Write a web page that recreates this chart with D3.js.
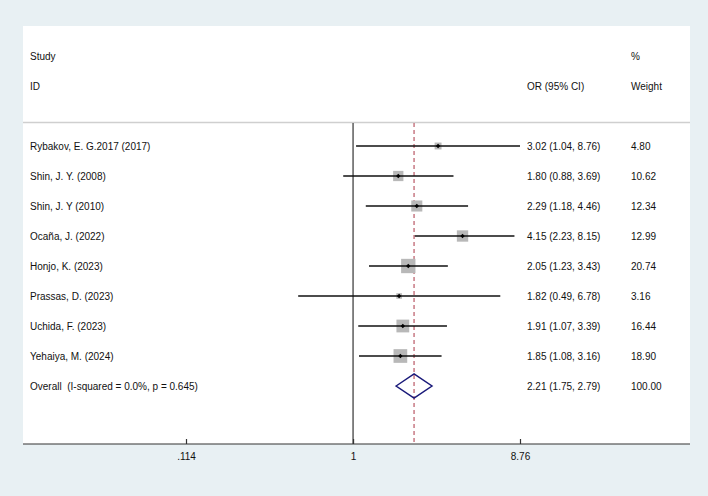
<!DOCTYPE html>
<html><head><meta charset="utf-8">
<script src="https://cdn.jsdelivr.net/npm/d3@7"></script>
<style>
html,body{margin:0;padding:0;background:#e8f0f3;}
svg{display:block;font-family:Arial,"Liberation Sans",sans-serif;}
</style></head>
<body>
<svg id="c" width="708" height="496"></svg>
<script>
const studies = ["Rybakov, E. G.2017 (2017)","Shin, J. Y. (2008)","Shin, J. Y (2010)","Ocaña, J. (2022)","Honjo, K. (2023)","Prassas, D. (2023)","Uchida, F. (2023)","Yehaiya, M. (2024)"];
const or = [3.02,1.80,2.29,4.15,2.05,1.82,1.91,1.85];
const lo = [1.04,0.88,1.18,2.23,1.23,0.49,1.07,1.08];
const hi = [8.76,3.69,4.46,8.15,3.43,6.78,3.39,3.16];
const weights = ["4.80","10.62","12.34","12.99","20.74","3.16","16.44","18.90"];
const overall = {label:"Overall  (I-squared = 0.0%, p = 0.645)", or:2.21, lo:1.75, hi:2.79, weight:"100.00"};
const tickVals = [0.114, 1, 8.76];
const tickLabels = [".114","1","8.76"];

const svg = d3.select("#c");
const fs = 10;
const panelL = 23, panelR = 690, panelT = 26, axisY = 444;
svg.append("rect").attr("x",panelL).attr("y",panelT).attr("width",panelR-panelL).attr("height",axisY-panelT).attr("fill","#fff");

const x = d3.scaleLog().domain([0.114, 8.76]).range([186, 520]);
const rowY = d3.scalePoint().domain(d3.range(studies.length+1)).range([146, 386]);

// header
const txt = (t,xx,yy)=>svg.append("text").attr("x",xx).attr("y",yy).attr("dy","0.35em").attr("font-size",fs).attr("fill","#111").style("white-space","pre").text(t);
txt("Study",30,56); txt("ID",30,86);
txt("%",631,56); txt("OR (95% CI)",527,86); txt("Weight",631,86);
svg.append("line").attr("x1",panelL).attr("x2",panelR).attr("y1",122.5).attr("y2",122.5).attr("stroke","#cfcfcf").attr("stroke-width",1.5);

// null line
svg.append("line").attr("x1",x(1)).attr("x2",x(1)).attr("y1",123).attr("y2",axisY).attr("stroke","#333").attr("stroke-width",1.2);
// overall dashed line
svg.append("line").attr("x1",x(overall.or)).attr("x2",x(overall.or)).attr("y1",123).attr("y2",axisY).attr("stroke","#c4707c").attr("stroke-width",1.4).attr("stroke-dasharray","4,3");

const k = 3.15;
studies.forEach((s,i)=>{
  const y = rowY(i);
  txt(s,30,y);
  const side = k*Math.sqrt(+weights[i]);
  svg.append("rect").attr("x",x(or[i])-side/2).attr("y",y-side/2).attr("width",side).attr("height",side).attr("fill","#b8b8b8");
  svg.append("line").attr("x1",x(lo[i])).attr("x2",x(hi[i])).attr("y1",y).attr("y2",y).attr("stroke","#111").attr("stroke-width",1.6);
  const cx = x(or[i]);
  svg.append("path").attr("d",`M${cx-2.2},${y}L${cx},${y-2.2}L${cx+2.2},${y}L${cx},${y+2.2}Z`).attr("fill","#000");
  txt(`${or[i].toFixed(2)} (${lo[i].toFixed(2)}, ${hi[i].toFixed(2)})`,527,y);
  txt(weights[i],631,y);
});
{
  const y = rowY(studies.length);
  txt(overall.label,30,y);
  svg.append("path").attr("d",`M${x(overall.lo)},${y}L${x(overall.or)},${y-12}L${x(overall.hi)},${y}L${x(overall.or)},${y+12}Z`).attr("fill","none").attr("stroke","#1a1a7a").attr("stroke-width",1.5);
  txt(`${overall.or.toFixed(2)} (${overall.lo.toFixed(2)}, ${overall.hi.toFixed(2)})`,527,y);
  txt(overall.weight,631,y);
}

// axis
const ax = d3.axisBottom(x).tickValues(tickVals).tickFormat((d,i)=>tickLabels[i]).tickSize(5).tickPadding(4);
const g = svg.append("g").attr("transform",`translate(0,${axisY})`).call(ax);
g.select(".domain").remove();
g.append("line").attr("x1",panelL).attr("x2",panelR).attr("stroke","#333").attr("stroke-width",1.2);
g.selectAll(".tick line").attr("y1",-5).attr("y2",0).attr("stroke","#333").attr("stroke-width",1.2);
g.selectAll(".tick text").attr("font-size",fs).attr("fill","#111").attr("font-family","Arial,'Liberation Sans',sans-serif").attr("y",9);
</script>
</body></html>
